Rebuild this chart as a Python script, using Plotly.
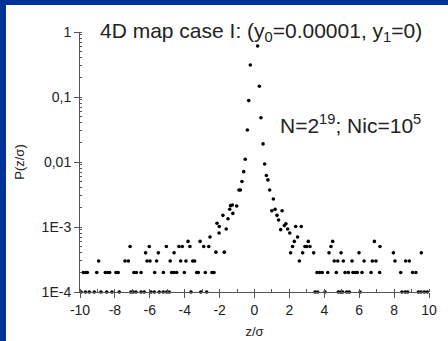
import plotly.graph_objects as go

# ---- data ----
# central peak (z/sigma, P)
core_z = [0.18, 0.28, 0.37, 0.49, 0.58, 0.68, 0.77, 0.87, 1.08, 0.99, 1.18, 1.58, 1.29, 1.38,
          1.50, 1.71, 1.80, 1.90, 2.02, 2.36, 2.68, 2.47,
          -0.24, -0.33, -0.41, -0.53, -0.62, -0.72, -0.81, -0.89, -1.02, -1.27, -1.37, -1.42,
          -1.24, -1.52, -1.81, -2.15, -2.02, -1.62, -2.03, -2.55, -1.73, -2.21]
core_p = [0.61, 0.146, 0.048, 0.019, 0.0093, 0.0062, 0.0053, 0.0037, 0.0027, 0.00178, 0.00187,
          0.00178, 0.00151, 0.00128, 0.00091, 0.00105, 0.00112, 0.00093, 0.00081, 0.00102,
          0.00102, 0.0007,
          0.31, 0.088, 0.031, 0.011, 0.0071, 0.005, 0.0037, 0.0037, 0.0021, 0.00218, 0.00213,
          0.00188, 0.00162, 0.00134, 0.00151, 0.00114, 0.00102, 0.00093, 0.00081, 0.0007,
          0.00041, 0.00041]

# tails: z positions of points at each discrete probability level
tail_levels = [1e-4, 2e-4, 3e-4, 4e-4, 5e-4, 6e-4]
tail_z_1 = [-9.94, -9.69, -9.47, -9.18, -8.80, -8.47, -8.17, -7.75, -7.08, -6.95, -6.79, -6.50,
            -6.32, -5.93, -5.74, -5.46, -5.23, -5.03, -4.88, -3.64, -3.08, -2.74,
            3.47, 3.62, 4.04, 4.80, 4.94, 5.05, 5.28, 5.43, 6.05, 8.45, 8.64, 8.78, 9.39, 9.54,
            9.73, 9.90]
tail_z_2 = [-9.81, -9.67, -9.58, -9.04, -8.55, -8.41, -8.30, -7.94, -7.81, -6.91, -6.77, -6.50,
            -5.72, -5.22, -4.75, -4.61, -4.46, -4.02, -3.31, -3.22, -2.82, -2.44, -2.32,
            3.58, 3.73, 3.88, 4.20, 4.69, 5.19, 5.38, 5.64, 5.78, 5.89, 6.16, 6.68, 7.17, 8.38,
            9.06, 9.25]
tail_z_3 = [-8.93, -7.42, -7.23, -6.16, -5.99, -5.61, -4.83, -4.23, -3.93, -3.54, -3.43,
            2.57, 4.57, 4.77, 5.09, 5.59, 6.28, 6.75, 6.96, 8.05, 8.66, 8.87]
tail_z_4 = [-6.24, -5.51, -4.61, 2.07, 2.76, 3.39, 4.27, 4.96, 5.99, 7.96, 9.56]
tail_z_5 = [-7.13, -6.03, -5.05, -4.33, -4.14, -3.70, -2.91, -2.62,
            2.18, 2.89, 2.99, 3.18, 4.38, 7.19]
tail_z_6 = [-3.81, -3.12, 2.28, 3.08, 4.48, 6.87]

y_tick_vals = [1e-4, 1e-3, 1e-2, 1e-1, 1]
y_tick_text = ["1E-4", "1E-3", "0,01", "0,1", "1"]
x_tick_vals = [-10, -8, -6, -4, -2, 0, 2, 4, 6, 8, 10]
x_tick_text = ["-10", "-8", "-6", "-4", "-2", "0", "2", "4", "6", "8", "10"]

# ---- build points ----
xs = list(core_z)
ys = list(core_p)
for lvl, zs in zip(tail_levels, [tail_z_1, tail_z_2, tail_z_3, tail_z_4, tail_z_5, tail_z_6]):
    xs += zs
    ys += [lvl] * len(zs)

FONT = "Liberation Sans, Arial, sans-serif"
TXT = "#222222"
AX = "#555555"

fig = go.Figure()
fig.add_trace(go.Scatter(x=xs, y=ys, mode="markers",
                         marker=dict(color="black", size=3.6, line=dict(width=0)),
                         cliponaxis=False, showlegend=False, hoverinfo="skip"))

fig.update_layout(
    width=448, height=341,
    margin=dict(l=80, r=19, t=32, b=49, autoexpand=False),
    paper_bgcolor="white", plot_bgcolor="white",
    font=dict(family=FONT, color=TXT, size=14),
    xaxis=dict(range=[-10, 10], tickvals=x_tick_vals, ticktext=x_tick_text,
               ticks="outside", ticklen=5, automargin=False,
               tickcolor=AX, showline=True, linecolor=AX, linewidth=1, showgrid=False,
               zeroline=False, tickfont=dict(size=14, color=TXT),
               minor=dict(dtick=1, ticks="inside", ticklen=3, tickcolor=AX),
               title=dict(text="z/σ", font=dict(size=13, color=TXT), standoff=10)),
    yaxis=dict(type="log", range=[-4, 0], tickvals=y_tick_vals, ticktext=y_tick_text,
               ticks="outside", ticklen=5, tickcolor=AX, showline=True, linecolor=AX,
               linewidth=1, showgrid=False, zeroline=False, automargin=False,
               tickfont=dict(size=14, color=TXT),
               minor=dict(dtick="D1", ticks="inside", ticklen=2, tickcolor=AX),
               title=dict(text="P(z/σ)", font=dict(size=13, color=TXT), standoff=14)),
    shapes=[
        dict(type="rect", xref="paper", yref="paper", x0=-0.25, x1=-0.212, y0=-0.3, y1=1.2,
             fillcolor="#003399", line=dict(width=0), layer="below"),
        dict(type="rect", xref="paper", yref="paper", x0=-0.25, x1=1.1, y0=1.104, y1=1.2,
             fillcolor="#003399", line=dict(width=0), layer="below"),
    ],
    annotations=[
        dict(text="4D map case I: (y<sub>0</sub>=0.00001, y<sub>1</sub>=0)",
             xref="paper", yref="paper", x=0.052, y=1.0, xanchor="left", yanchor="middle",
             showarrow=False, font=dict(size=21, color=TXT)),
        dict(text="N=2<sup>19</sup>; Nic=10<sup>5</sup>",
             xref="paper", yref="paper", x=0.568, y=0.645, xanchor="left", yanchor="middle",
             showarrow=False, font=dict(size=21, color=TXT)),
    ],
)

fig.write_html("out.html")
